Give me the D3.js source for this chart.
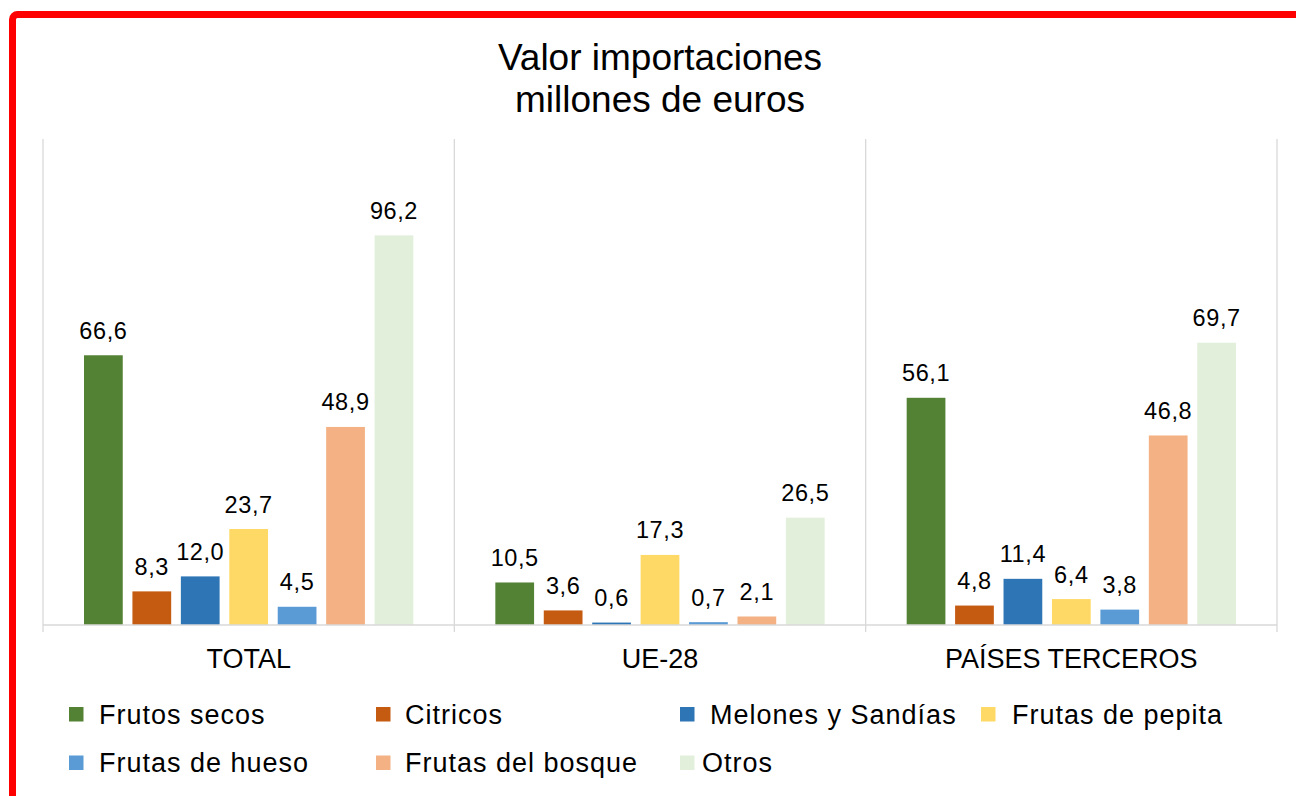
<!DOCTYPE html>
<html>
<head>
<meta charset="utf-8">
<script src="https://cdn.jsdelivr.net/npm/d3@7"></script>
<style>
  body { margin: 0; background: #fff; }
  svg { display: block; font-family: "Liberation Sans", Arial, sans-serif; }
</style>
</head>
<body>
<script>
const categories = ["TOTAL", "UE-28", "PAÍSES TERCEROS"];
const series = ["Frutos secos", "Citricos", "Melones y Sandías", "Frutas de pepita",
                "Frutas de hueso", "Frutas del bosque", "Otros"];
const colors = ["#548235", "#C55A11", "#2E75B6", "#FFD966", "#5B9BD5", "#F4B183", "#E2EFDA"];

// values per category, in series order
const totalValues   = [66.6, 8.3, 12.0, 23.7, 4.5, 48.9, 96.2];
const ueValues      = [10.5, 3.6, 0.6, 17.3, 0.7, 2.1, 26.5];
const terceroValues = [56.1, 4.8, 11.4, 6.4, 3.8, 46.8, 69.7];
const values = [totalValues, ueValues, terceroValues];

const titleLines = ["Valor importaciones", "millones de euros"];

const w = 1296;
const h = 796;

const svg = d3.select("body")
  .append("svg")
  .attr("width", w)
  .attr("height", h);

// red frame
svg.append("rect")
  .attr("x", 12.5).attr("y", 14.5)
  .attr("width", w + 20).attr("height", h + 20)
  .attr("rx", 5)
  .attr("fill", "none")
  .attr("stroke", "#FF0000")
  .attr("stroke-width", 7);

// title
svg.append("text")
  .attr("text-anchor", "middle")
  .attr("font-size", 37)
  .attr("fill", "#000")
  .selectAll("tspan")
  .data(titleLines)
  .enter()
  .append("tspan")
  .attr("x", 660)
  .attr("y", (d, i) => 69.5 + i * 42.5)
  .text(d => d);

const x0 = d3.scaleBand()
  .domain(categories)
  .range([43, 1277]);

const pad = 41;
const x1 = d3.scaleBand()
  .domain(series)
  .range([pad, x0.bandwidth() - pad])
  .paddingInner(0.2);

const y = d3.scaleLinear()
  .domain([0, 120])
  .range([625, 139]);

const fmt = d3.formatLocale({decimal: ",", thousands: ".", grouping: [3], currency: ["", "€"]}).format(".1f");

// vertical separators between categories
const bounds = categories.map(c => x0(c)).concat([x0.range()[1]]);
svg.selectAll("line.sep")
  .data(bounds)
  .enter()
  .append("line")
  .attr("class", "sep")
  .attr("x1", d => d).attr("x2", d => d)
  .attr("y1", y(120)).attr("y2", 632)
  .attr("stroke", "#D9D9D9")
  .attr("stroke-width", 1.3);

const groups = svg.selectAll("g.cat")
  .data(categories)
  .enter()
  .append("g")
  .attr("class", "cat")
  .attr("transform", d => `translate(${x0(d)},0)`);

groups.selectAll("rect")
  .data((d, i) => values[i].map((v, j) => ({s: series[j], v: v, c: colors[j]})))
  .enter()
  .append("rect")
  .attr("x", d => x1(d.s))
  .attr("y", d => y(d.v))
  .attr("width", x1.bandwidth())
  .attr("height", d => y(0) - y(d.v))
  .attr("fill", d => d.c);

groups.selectAll("text.val")
  .data((d, i) => values[i].map((v, j) => ({s: series[j], v: v})))
  .enter()
  .append("text")
  .attr("class", "val")
  .attr("x", d => x1(d.s) + x1.bandwidth() / 2)
  .attr("y", d => y(d.v) - 16.5)
  .attr("text-anchor", "middle")
  .attr("font-size", 23.5)
  .attr("letter-spacing", 0.6)
  .attr("fill", "#000")
  .text(d => fmt(d.v));

// baseline
svg.append("line")
  .attr("x1", 43).attr("x2", 1277)
  .attr("y1", y(0)).attr("y2", y(0))
  .attr("stroke", "#D9D9D9")
  .attr("stroke-width", 1.3);

// category labels
svg.selectAll("text.cat")
  .data(categories)
  .enter()
  .append("text")
  .attr("class", "cat")
  .attr("x", d => x0(d) + x0.bandwidth() / 2)
  .attr("y", 668)
  .attr("text-anchor", "middle")
  .attr("font-size", 27)
  .attr("fill", "#000")
  .text(d => d);

// legend
const legendPos = [
  {mx: 69, tx: 99, y: 0}, {mx: 376, tx: 405, y: 0}, {mx: 680, tx: 710, y: 0}, {mx: 981, tx: 1012, y: 0},
  {mx: 69, tx: 99, y: 1}, {mx: 376, tx: 405, y: 1}, {mx: 680, tx: 702, y: 1}
];

const legend = svg.selectAll("g.leg")
  .data(series)
  .enter()
  .append("g")
  .attr("class", "leg");

legend.append("rect")
  .attr("x", (d, i) => legendPos[i].mx)
  .attr("y", (d, i) => 707 + legendPos[i].y * 48.5)
  .attr("width", 14.5)
  .attr("height", 14.5)
  .attr("fill", (d, i) => colors[i]);

legend.append("text")
  .attr("x", (d, i) => legendPos[i].tx)
  .attr("y", (d, i) => 723.5 + legendPos[i].y * 48.5)
  .attr("font-size", 27)
  .attr("letter-spacing", 1.0)
  .attr("fill", "#000")
  .text(d => d);
</script>
</body>
</html>
